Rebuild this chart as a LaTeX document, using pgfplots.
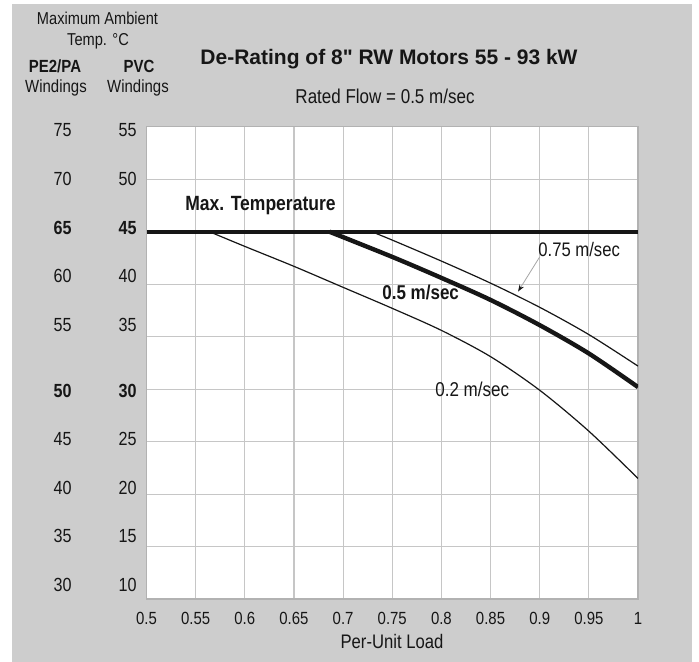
\documentclass[border=0pt]{standalone}
\usepackage{pgfplots}
\pgfplotsset{compat=1.18}
\usepackage{fontspec}
\setmainfont{Liberation Sans}[FakeStretch=0.85]
\newfontfamily\titlefont{Liberation Sans}
\usetikzlibrary{arrows.meta}

\definecolor{panel}{RGB}{205,205,205}
\definecolor{gridc}{RGB}{198,198,198}
\definecolor{ink}{RGB}{22,22,22}
\newcommand\fs[1]{\fontsize{#1bp}{#1bp}\selectfont}

% curves, PVC windings temperature (deg C) vs per-unit load
\pgfplotstableread{
x      y
0.564  45
0.60   43.6
0.65   41.7
0.70   39.7
0.75   37.7
0.80   35.6
0.85   33.1
0.90   29.9
0.95   26.0
1.00   21.5
}\flowA
\pgfplotstableread{
x      y
0.686  45
0.75   42.6
0.80   40.6
0.85   38.5
0.90   36.1
0.95   33.4
1.00   30.2
}\flowB
\pgfplotstableread{
x      y
0.729  45
0.75   44.2
0.80   42.2
0.85   40.1
0.90   37.8
0.95   35.2
1.00   32.2
}\flowC

\begin{document}
\begin{tikzpicture}
% page, in pixels of the reference (origin top left)
\begin{scope}[x=0.5bp,y=-0.5bp,shift={(-146.5,-599.2)}]
  \fill[white] (0,0) rectangle (699,662);
  \fill[panel] (12,4) rectangle (692,662);
\end{scope}

\begin{axis}[
    at={(0,0)}, anchor=south west,
    scale only axis,
    width=245.75bp, height=236.25bp,
    xmin=0.5, xmax=1, ymin=10, ymax=55,
    axis background/.style={fill=white},
    axis line style={gray!60, line width=0.8bp},
    grid=major,
    major grid style={gridc, line width=0.6bp},
    major tick length=0pt,
    xtick={0.5,0.55,0.6,0.65,0.7,0.75,0.8,0.85,0.9,0.95,1},
    xticklabels={0.5,0.55,0.6,0.65,0.7,0.75,0.8,0.85,0.9,0.95,1},
    xticklabel style={font=\fs{8.8}, text=ink, anchor=base, yshift=-12.4bp},
    ytick={10,15,...,55},
    yticklabels={},
]
\addplot[ink, line width=2bp] coordinates {(0.5,45) (1,45)};
\addplot[ink, line width=0.6bp, smooth] table[x=x, y=y] {\flowA};
\addplot[ink, line width=0.6bp, smooth] table[x=x, y=y] {\flowC};
\addplot[ink, line width=2.2bp, smooth] table[x=x, y=y] {\flowB};
\draw[gray!70, line width=0.4bp, -{Stealth[length=3.5bp, width=2.5bp, ink]}]
    (axis cs:0.900,42.6) -- (axis cs:0.878,39.3);
\end{axis}

\begin{scope}[x=0.5bp,y=-0.5bp,shift={(-146.5,-599.2)},
    every node/.style={inner sep=0pt, text=ink}]
  % header over the temperature columns
  \node[anchor=base] at (97.5,25) {\fs{8.6}Maximum Ambient};
  \node[anchor=base] at (98,46) {\fs{8.6}Temp. °C};
  \node[anchor=base] at (55,72.5) {\fs{8.8}\bfseries PE2/PA};
  \node[anchor=base] at (139,72.5) {\fs{8.8}\bfseries PVC};
  \node[anchor=base] at (56,93) {\fs{8.8}Windings};
  \node[anchor=base] at (138,93) {\fs{8.8}Windings};
  % titles
  \node[anchor=base] at (389,65) {\titlefont\fs{10.5}\bfseries De-Rating of 8" RW Motors 55 - 93 kW};
  \node[anchor=base] at (385,104) {\fs{10}Rated Flow = 0.5 m/sec};
  \node[anchor=base] at (392,648) {\fs{9.8}Per-Unit Load};
  % the two temperature scales
  \foreach \pe/\pv/\yy in {75/55/137, 70/50/186, 60/40/283, 55/35/331.5,
                           45/25/446, 40/20/494.5, 35/15/543, 30/10/592}{
    \node[anchor=base east] at (72,\yy) {\fs{9.5}\pe};
    \node[anchor=base east] at (137,\yy) {\fs{9.5}\pv};
  }
  \foreach \pe/\pv/\yy in {65/45/235, 50/30/397.5}{
    \node[anchor=base east] at (72,\yy) {\fs{9.5}\bfseries\pe};
    \node[anchor=base east] at (137,\yy) {\fs{9.5}\bfseries\pv};
  }
  % curve labels
  \node[anchor=base west] at (185,211) {\fs{10.3}\bfseries Max. Temperature};
  \node[anchor=base west] at (538,257) {\fs{9.8}0.75 m/sec};
  \node[anchor=base west] at (382,300) {\fs{10}\bfseries 0.5 m/sec};
  \node[anchor=base west] at (435,397) {\fs{10}0.2 m/sec};
\end{scope}
\end{tikzpicture}
\end{document}
